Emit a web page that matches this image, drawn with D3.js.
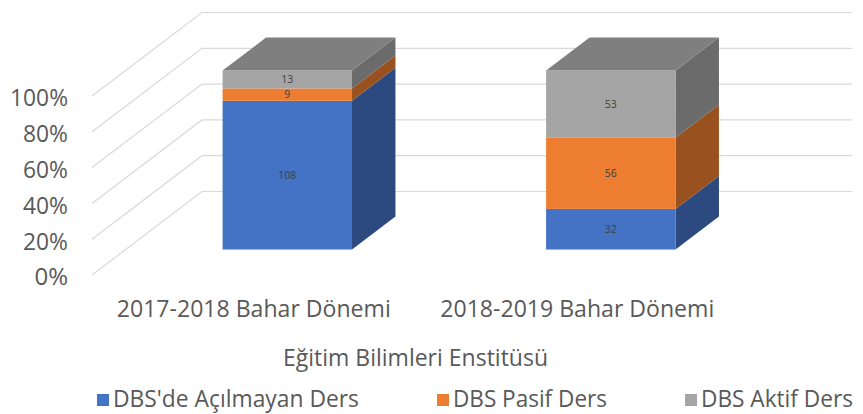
<!DOCTYPE html>
<html>
<head>
<meta charset="utf-8">
<script src="https://cdn.jsdelivr.net/npm/d3@7"></script>
<style>
  body { margin: 0; background: #fff; }
  svg { display: block; font-family: "Open Sans", sans-serif; }
</style>
</head>
<body>
<svg id="chart" width="863" height="414"></svg>
<script>
// data
var categories = ['2017-2018 Bahar Dönemi', '2018-2019 Bahar Dönemi'];
var seriesNames = ["DBS'de Açılmayan Ders", 'DBS Pasif Ders', 'DBS Aktif Ders'];
var acilmayanDers = [108, 32];
var pasifDers = [9, 56];
var aktifDers = [13, 53];
var yTicks = [0, 0.2, 0.4, 0.6, 0.8, 1];
var axisTitle = 'Eğitim Bilimleri Enstitüsü';

var colors = ['#4472C4', '#ED7D31', '#A5A5A5'];
var sideColors = ['#2C4A80', '#9A5120', '#6B6B6B'];
var topColors = ['#3A62A8', '#C96A2A', '#7F7F7F'];

var rows = categories.map(function (c, i) {
  return { cat: c, s0: acilmayanDers[i], s1: pasifDers[i], s2: aktifDers[i] };
});
var stack = d3.stack().keys(['s0', 's1', 's2']).offset(d3.stackOffsetExpand);
var layers = stack(rows);

var svg = d3.select('#chart');

// squeeze text to calibri-ish width
function fitText(sel, w) {
  var len = sel.node().getComputedTextLength();
  if (len > w) sel.attr('textLength', w).attr('lengthAdjust', 'spacingAndGlyphs');
  return sel;
}

// 3d layout: front plane scales + depth vector
var x = d3.scaleBand().domain(categories).range([92, 739]).paddingInner(0.6).paddingOuter(0.3);
var xCat = d3.scaleBand().domain(categories).range([92, 739]);
var y = d3.scaleLinear().domain([0, 1]).range([275, 96]);
var depthX = d3.scaleLinear().domain([0, 1]).range([0, 110]);
var depthY = d3.scaleLinear().domain([0, 1]).range([0, -83.5]);
var barFront = 0.305, barBack = 0.70;
var bdx = depthX(barBack) - depthX(barFront);
var bdy = depthY(barBack) - depthY(barFront);

// gridlines: left wall diagonals + back wall horizontals
var grid = svg.append('g').attr('stroke', '#d9d9d9').attr('stroke-width', 1.2).attr('fill', 'none');
grid.selectAll('path')
  .data(yTicks)
  .enter()
  .append('path')
  .attr('d', function (t) {
    var x0 = x.range()[0], y0 = y(t);
    return 'M' + x0 + ',' + y0 +
      'L' + (x0 + depthX(1)) + ',' + (y0 + depthY(1)) +
      'L' + (xCat.range()[1] + depthX(1) + 3) + ',' + (y0 + depthY(1));
  });

// y labels
svg.append('g')
  .selectAll('text')
  .data(yTicks)
  .enter()
  .append('text')
  .attr('x', 68)
  .attr('y', function (t) { return y(t) + 2; })
  .attr('dy', '0.35em')
  .attr('text-anchor', 'end')
  .attr('fill', '#595959')
  .style('font-size', '24px')
  .text(d3.format('.0%'))
  .each(function (t) { fitText(d3.select(this), t === 1 ? 58 : 45); });

// bars
var bars = svg.append('g');
layers.forEach(function (layer, si) {
  layer.forEach(function (d, ci) {
    var xl = x(categories[ci]) + depthX(barFront);
    var xr = xl + x.bandwidth();
    var yb = y(d[0]) + depthY(barFront);
    var yt = y(d[1]) + depthY(barFront);
    // side
    bars.append('path')
      .attr('d', 'M' + xr + ',' + yb + 'L' + (xr + bdx) + ',' + (yb + bdy) +
        'L' + (xr + bdx) + ',' + (yt + bdy) + 'L' + xr + ',' + yt + 'Z')
      .attr('fill', sideColors[si]);
    // front
    bars.append('rect')
      .attr('x', xl)
      .attr('y', yt)
      .attr('width', x.bandwidth())
      .attr('height', yb - yt)
      .attr('fill', colors[si]);
    // top (only for last series)
    if (si === layers.length - 1) {
      bars.append('path')
        .attr('d', 'M' + xl + ',' + yt + 'L' + (xl + bdx) + ',' + (yt + bdy) +
          'L' + (xr + bdx) + ',' + (yt + bdy) + 'L' + xr + ',' + yt + 'Z')
        .attr('fill', topColors[si]);
    }
    // value label
    bars.append('text')
      .attr('x', (xl + xr) / 2)
      .attr('y', (yb + yt) / 2)
      .attr('dy', '0.35em')
      .attr('text-anchor', 'middle')
      .attr('fill', '#404040')
      .style('font-size', '10.5px')
      .text(rows[ci][layer.key]);
  });
});

// category labels
svg.append('g')
  .selectAll('text')
  .data(categories)
  .enter()
  .append('text')
  .attr('x', function (c) { return xCat(c) + xCat.bandwidth() / 2; })
  .attr('y', 317)
  .attr('text-anchor', 'middle')
  .attr('fill', '#595959')
  .style('font-size', '24px')
  .text(function (c) { return c; })
  .each(function () { fitText(d3.select(this), 274); });

// axis title
fitText(svg.append('text')
  .attr('x', (xCat.range()[0] + xCat.range()[1]) / 2)
  .attr('y', 366)
  .attr('text-anchor', 'middle')
  .attr('fill', '#595959')
  .style('font-size', '24px')
  .text(axisTitle), 265);

// legend
var legendWidths = [246, 154, 152];
var legend = svg.append('g');
var lx = 97;
seriesNames.forEach(function (name, i) {
  legend.append('rect')
    .attr('x', lx)
    .attr('y', 394)
    .attr('width', 12)
    .attr('height', 12)
    .attr('fill', colors[i]);
  var t = legend.append('text')
    .attr('x', lx + 16)
    .attr('y', 407)
    .attr('fill', '#595959')
    .style('font-size', '24px')
    .text(name);
  fitText(t, legendWidths[i]);
  lx += 16 + legendWidths[i] + 78;
});
</script>
</body>
</html>
